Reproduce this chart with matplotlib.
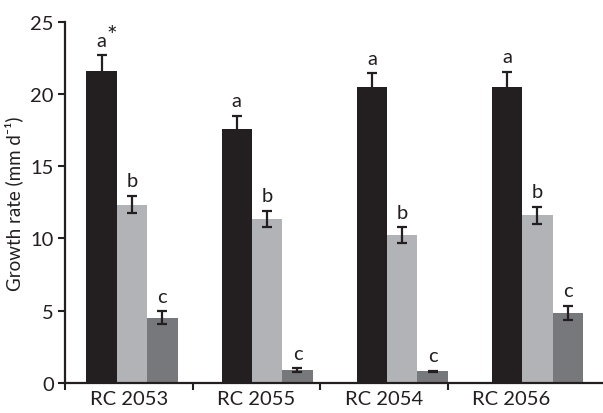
import matplotlib
matplotlib.use("Agg")
import matplotlib.pyplot as plt
import numpy as np

plt.rcParams['font.family'] = ['Lato', 'DejaVu Sans']

categories = ["RC 2053", "RC 2055", "RC 2054", "RC 2056"]
series1 = [21.6, 17.6, 20.45, 20.5]
series2 = [12.35, 11.35, 10.25, 11.6]
series3 = [4.5, 0.9, 0.8, 4.85]
err1 = [1.1, 0.9, 1.0, 1.05]
err2 = [0.62, 0.57, 0.54, 0.6]
err3 = [0.45, 0.12, 0.06, 0.5]
letters1 = ["a", "a", "a", "a"]
letters2 = ["b", "b", "b", "b"]
letters3 = ["c", "c", "c", "c"]
yticks = [0, 5, 10, 15, 20, 25]

colors = ["#231f20", "#b1b3b6", "#77787b"]
ink = "#231f20"

fig = plt.figure(figsize=(6.03, 4.14), dpi=100)
ax = fig.add_axes([65/603, 1-384/414, 1-65/603, (384-22.7)/414])

group_start = 0.525
group_step = 1.059
bw = 0.238
centers = group_start + group_step*np.arange(len(categories))

all_series = [series1, series2, series3]
all_err = [err1, err2, err3]
all_letters = [letters1, letters2, letters3]
for k in range(3):
    xs = centers + (k-1)*bw
    ax.bar(xs, all_series[k], width=bw, color=colors[k], linewidth=0, zorder=2)
    ax.errorbar(xs, all_series[k], yerr=all_err[k], fmt='none', ecolor=ink,
                elinewidth=1.6, capsize=3.5, capthick=1.6, zorder=3)
    for i, x in enumerate(xs):
        top = all_series[k][i] + all_err[k][i]
        ax.annotate(all_letters[k][i], (x, top), xytext=(0, 4.5), textcoords='offset points',
                    ha='center', va='bottom', fontsize=14.5, color=ink)
        if k == 0 and i == 0:
            ax.annotate("*", (x, top), xytext=(3.5, 5.5), textcoords='offset points',
                        ha='left', va='bottom', fontsize=18, color=ink)

ax.set_xlim(0, (603-65)/127.6)
ax.set_ylim(0, 25)
ax.set_yticks(yticks)
ax.set_yticklabels([str(v) for v in yticks], fontsize=14.5, color=ink)
ax.set_xticks(np.arange(len(categories)))
ax.set_xticklabels([])
ax.set_xticks(np.arange(len(categories)) + 0.5, minor=True)
ax.set_xticklabels(categories, minor=True, fontsize=14.5, color=ink)
ax.tick_params(axis='x', which='minor', length=0, pad=5)
ax.tick_params(axis='x', which='major', length=5, width=1.5, color=ink, direction='out')
ax.tick_params(axis='y', length=5, width=1.5, color=ink, direction='out', pad=3)

for s in ['top', 'right']:
    ax.spines[s].set_visible(False)
for s in ['left', 'bottom']:
    ax.spines[s].set_linewidth(1.6)
    ax.spines[s].set_color(ink)

ax.set_ylabel("Growth rate (mm d\u207b\u00b9)", fontsize=13.5, color=ink, labelpad=5)

fig.savefig("out.png", dpi=100)
